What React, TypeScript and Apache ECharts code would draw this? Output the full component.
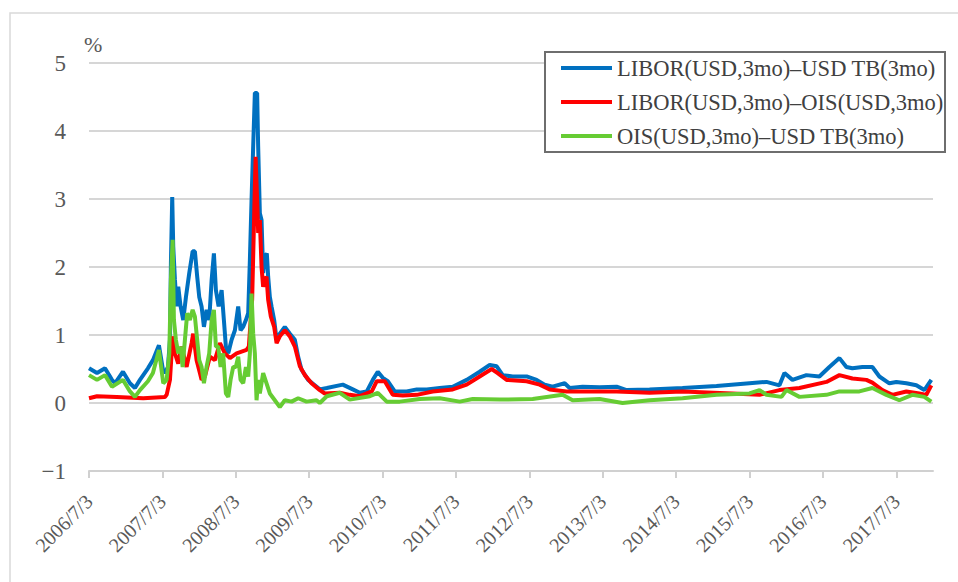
import React, { useEffect, useRef } from "react";
import * as echarts from "echarts";

// x values: years elapsed since 2006/7/3
const yearTicks = [0, 1, 2, 3, 4, 5, 6, 7, 8, 9, 10, 11];
const startYear = 2006;

const seriesNames = [
  "LIBOR(USD,3mo)–USD TB(3mo)",
  "LIBOR(USD,3mo)–OIS(USD,3mo)",
  "OIS(USD,3mo)–USD TB(3mo)",
];

const liborTbT = [
  0, 0.109, 0.218, 0.313, 0.354, 0.463, 0.558, 0.626, 0.694, 0.803, 0.871, 0.953, 1.007, 1.035,
  1.076, 1.103, 1.116, 1.134, 1.148, 1.171, 1.194, 1.216, 1.248, 1.284, 1.321, 1.366, 1.412, 1.443,
  1.474, 1.502, 1.534, 1.566, 1.602, 1.638, 1.671, 1.702, 1.729, 1.766, 1.807, 1.838, 1.865, 1.897,
  1.943, 1.988, 2.033, 2.065, 2.101, 2.138, 2.169, 2.192, 2.215, 2.237, 2.26, 2.291, 2.305, 2.328,
  2.351, 2.373, 2.396, 2.423, 2.441, 2.464, 2.487, 2.523, 2.556, 2.6, 2.668, 2.737, 2.805, 2.85,
  2.896, 2.986, 3.077, 3.145, 3.24, 3.458, 3.594, 3.69, 3.785, 3.867, 3.935, 4.003, 4.071, 4.166,
  4.329, 4.466, 4.602, 4.779, 4.956, 5.146, 5.323, 5.46, 5.555, 5.637, 5.773, 5.963, 6.099, 6.208,
  6.317, 6.481, 6.549, 6.726, 6.957, 7.189, 7.325, 7.638, 8.087, 8.55, 8.999, 9.231, 9.408, 9.476,
  9.585, 9.775, 9.952, 10.088, 10.225, 10.32, 10.402, 10.538, 10.674, 10.769, 10.905, 11.001,
  11.137, 11.273, 11.382, 11.477,
];
const liborTbV = [
  0.51, 0.44, 0.51, 0.34, 0.29, 0.46, 0.29, 0.22, 0.34, 0.51, 0.63, 0.85, 0.49, 0.44,
  0.53, 0.93, 2.05, 3.03, 2.3, 1.81, 1.42, 1.71, 1.42, 1.22, 1.56, 1.91, 2.23, 2.23,
  1.86, 1.56, 1.42, 1.12, 1.37, 1.22, 1.81, 2.2, 1.66, 1.42, 1.66, 1.22, 0.83, 0.73,
  0.93, 1.07, 1.42, 1.07, 1.12, 1.22, 1.32, 2.1, 2.99, 3.77, 4.56, 4.56, 3.77, 2.79,
  2.69, 1.91, 2.15, 2.2, 1.86, 1.56, 1.42, 1.22, 0.93, 1.02, 1.12, 1.02, 0.93, 0.68,
  0.49, 0.34, 0.26, 0.2, 0.22, 0.27, 0.2, 0.15, 0.17, 0.34, 0.46, 0.37, 0.32, 0.17,
  0.17, 0.2, 0.2, 0.22, 0.24, 0.34, 0.46, 0.56, 0.54, 0.41, 0.39, 0.39, 0.34, 0.27,
  0.24, 0.29, 0.22, 0.24, 0.23, 0.24, 0.19, 0.2, 0.22, 0.25, 0.29, 0.31, 0.26, 0.44,
  0.34, 0.41, 0.39, 0.53, 0.66, 0.53, 0.51, 0.53, 0.53, 0.39, 0.29, 0.31,
  0.29, 0.26, 0.19, 0.34,
];

const liborOisT = [
  0, 0.109, 0.377, 0.739, 1.035, 1.058, 1.103, 1.14, 1.171, 1.216, 1.262, 1.33, 1.398, 1.42,
  1.466, 1.511, 1.534, 1.579, 1.647, 1.715, 1.784, 1.852, 1.92, 2.011, 2.147, 2.178, 2.223, 2.251,
  2.27, 2.297, 2.305, 2.328, 2.351, 2.373, 2.396, 2.419, 2.441, 2.478, 2.523, 2.556, 2.6, 2.668,
  2.737, 2.805, 2.873, 2.941, 3.032, 3.145, 3.213, 3.417, 3.553, 3.69, 3.853, 3.921, 4.03, 4.139,
  4.275, 4.466, 4.683, 4.956, 5.146, 5.323, 5.487, 5.568, 5.691, 5.963, 6.14, 6.276, 6.508, 6.862,
  7.189, 7.638, 8.087, 8.768, 9.136, 9.408, 9.68, 10.048, 10.225, 10.402, 10.592, 10.674, 10.81,
  10.946, 11.137, 11.314, 11.409, 11.477,
];
const liborOisV = [
  0.07, 0.1, 0.09, 0.07, 0.09, 0.12, 0.34, 0.98, 0.73, 0.58, 0.83, 0.53, 0.88, 1.02,
  0.63, 0.44, 0.34, 0.39, 0.68, 0.63, 0.88, 0.73, 0.66, 0.73, 0.78, 0.83, 1.52, 2.79,
  3.62, 2.79, 2.5, 2.69, 2.0, 1.71, 1.81, 1.86, 1.52, 1.27, 1.12, 0.88, 0.98, 1.07,
  0.98, 0.83, 0.54, 0.41, 0.29, 0.19, 0.14, 0.15, 0.12, 0.1, 0.17, 0.32, 0.32, 0.12,
  0.11, 0.12, 0.17, 0.2, 0.27, 0.39, 0.5, 0.44, 0.34, 0.32, 0.27, 0.2, 0.17, 0.17,
  0.17, 0.15, 0.17, 0.14, 0.12, 0.19, 0.22, 0.31, 0.41, 0.36, 0.34, 0.3, 0.19,
  0.12, 0.17, 0.14, 0.12, 0.26,
];

const oisTbT = [
  0, 0.109, 0.218, 0.313, 0.463, 0.558, 0.626, 0.694, 0.803, 0.871, 0.953, 1.012, 1.058, 1.094,
  1.116, 1.14, 1.157, 1.184, 1.216, 1.248, 1.276, 1.307, 1.338, 1.375, 1.412, 1.443, 1.474, 1.502,
  1.534, 1.566, 1.602, 1.638, 1.671, 1.702, 1.729, 1.76, 1.793, 1.828, 1.865, 1.897, 1.929, 1.965,
  2.001, 2.033, 2.065, 2.101, 2.138, 2.169, 2.192, 2.215, 2.237, 2.26, 2.283, 2.305, 2.328, 2.373,
  2.419, 2.464, 2.532, 2.6, 2.668, 2.76, 2.85, 2.964, 3.1, 3.145, 3.24, 3.417, 3.553, 3.826,
  3.935, 4.057, 4.234, 4.506, 4.779, 5.051, 5.228, 5.596, 6.045, 6.453, 6.59, 6.957, 7.27, 7.638,
  8.087, 8.55, 8.999, 9.136, 9.231, 9.435, 9.503, 9.68, 10.048, 10.225, 10.497, 10.674, 10.864,
  11.041, 11.218, 11.382, 11.477,
];
const oisTbV = [
  0.41, 0.34, 0.41, 0.24, 0.34, 0.17, 0.09, 0.19, 0.32, 0.44, 0.78, 0.29, 0.34, 0.73,
  1.81, 2.4, 1.22, 0.93, 0.73, 0.83, 0.53, 0.93, 1.32, 1.22, 1.37, 1.27, 0.93, 0.63,
  0.53, 0.29, 0.53, 0.73, 1.22, 1.37, 0.83, 0.83, 0.53, 0.73, 0.14, 0.09, 0.34, 0.53,
  0.53, 0.68, 0.34, 0.29, 0.53, 0.39, 0.73, 1.61, 1.02, 0.73, 0.04, 0.34, 0.14, 0.44,
  0.29, 0.14, 0.04, -0.06, 0.04, 0.02, 0.07, 0.02, 0.04, 0.0, 0.1, 0.15, 0.05, 0.1,
  0.15, 0.02, 0.02, 0.06, 0.07, 0.02, 0.06, 0.05, 0.06, 0.12, 0.04, 0.06, 0.0, 0.04,
  0.07, 0.12, 0.14, 0.19, 0.12, 0.09, 0.19, 0.09, 0.12, 0.17, 0.17, 0.22, 0.12,
  0.04, 0.12, 0.09, 0.02,
];

const seriesColors = ["#0070c0", "#ff0000", "#66cc33"];

const FONT = "'Liberation Serif', 'DejaVu Serif', serif";

function pairs(t: number[], v: number[]) {
  return t.map((x, i) => [x, v[i]]);
}

export default function App() {
  const ref = useRef<HTMLDivElement>(null);
  useEffect(() => {
    if (!ref.current) return;
    const chart = echarts.init(ref.current, undefined, { renderer: "svg" });
    const dataSets = [
      pairs(liborTbT, liborTbV),
      pairs(liborOisT, liborOisV),
      pairs(oisTbT, oisTbV),
    ];
    chart.setOption({
      animation: false,
      backgroundColor: "#ffffff",
      grid: { left: 89, right: 25, top: 63, bottom: 111, containLabel: false },
      graphic: [
        {
          type: "rect",
          shape: { x: 10, y: 13, width: 1000, height: 1000 },
          style: { fill: "none", stroke: "#d9d9d9", lineWidth: 1.5 },
          silent: true,
        },
        {
          type: "text",
          x: 84,
          y: 33,
          style: { text: "%", font: `22px ${FONT}`, fill: "#595959" },
        },
        {
          type: "rect",
          shape: { x: 545, y: 52, width: 400, height: 100 },
          style: { fill: "#ffffff", stroke: "#6e6e6e", lineWidth: 2 },
          z: 5,
        },
      ],
      legend: {
        orient: "vertical",
        left: 561,
        top: 56,
        padding: 0,
        itemWidth: 51,
        itemHeight: 4,
        itemGap: 10,
        icon: "rect",
        z: 10,
        data: seriesNames,
        textStyle: { fontFamily: FONT, fontSize: 22.5, color: "#404040", lineHeight: 24 },
      },
      xAxis: {
        type: "value",
        min: 0,
        max: 11.5,
        interval: 1,
        axisLine: { show: true, onZero: false, lineStyle: { color: "#d0d0d0", width: 2 } },
        axisTick: { show: true, length: 7, lineStyle: { color: "#d0d0d0", width: 2 }, customValues: yearTicks },
        splitLine: { show: false },
        axisLabel: {
          customValues: yearTicks,
          rotate: 45,
          margin: 27,
          fontFamily: FONT,
          fontSize: 20,
          color: "#595959",
          formatter: (v: number) => `${startYear + Math.round(v)}/7/3`,
        },
      },
      yAxis: {
        type: "value",
        min: -1,
        max: 5,
        interval: 1,
        axisLine: { show: false },
        axisTick: { show: false },
        splitLine: { show: true, lineStyle: { color: "#d6d6d6", width: 2 } },
        axisLabel: {
          margin: 23,
          fontFamily: FONT,
          fontSize: 23,
          color: "#595959",
          formatter: (v: number) => (v < 0 ? "−" + Math.abs(v) : String(v)),
        },
      },
      series: seriesNames.map((name, i) => ({
        name,
        type: "line",
        data: dataSets[i],
        showSymbol: false,
        symbol: "none",
        color: seriesColors[i],
        lineStyle: { color: seriesColors[i], width: 4 },
        z: 2 + i,
      })),
    });
    return () => chart.dispose();
  }, []);
  return (
    <div
      ref={ref}
      style={{ position: "fixed", left: 0, top: 0, width: 958, height: 582, background: "#fff" }}
    />
  );
}
